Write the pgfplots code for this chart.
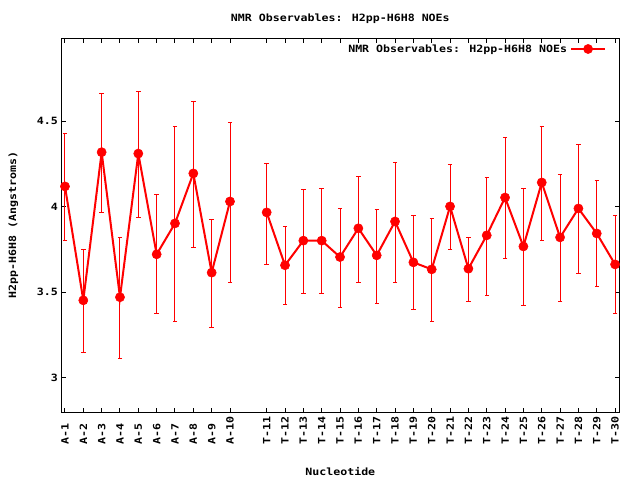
\documentclass[border=0pt]{standalone}
\usepackage{fontspec}
\setmainfont{DejaVu Sans Mono}[FakeStretch=1.16]
\usepackage{pgfplots}
\usepackage{pgfplotstable}
\pgfplotsset{compat=1.18}

\pgfplotstableread{
x y ep em
1 4.119 0.311 0.319
2 3.453 0.300 0.305
3 4.319 0.346 0.350
4 3.471 0.352 0.360
5 4.311 0.364 0.371
6 3.722 0.348 0.348
7 3.903 0.568 0.576
8 4.195 0.418 0.432
9 3.615 0.313 0.323
10 4.031 0.463 0.471
}\Adata

\pgfplotstableread{
x y ep em
12 3.967 0.288 0.302
13 3.658 0.229 0.232
14 3.802 0.301 0.312
15 3.802 0.307 0.312
16 3.706 0.286 0.297
17 3.874 0.305 0.314
18 3.716 0.270 0.284
19 3.914 0.347 0.354
20 3.675 0.271 0.278
21 3.634 0.300 0.307
22 4.002 0.247 0.249
23 3.638 0.185 0.194
24 3.833 0.340 0.349
25 4.054 0.353 0.359
26 3.768 0.341 0.348
27 4.142 0.329 0.337
28 3.821 0.370 0.377
29 3.990 0.376 0.383
30 3.844 0.312 0.313
31 3.663 0.283 0.288
}\Tdata

\begin{document}
\fontsize{10}{12}\selectfont\bfseries
\begin{tikzpicture}
\begin{axis}[
  at={(61.3pt,68pt)}, anchor=south west,
  scale only axis, width=558pt, height=373.7pt,
  xmin=0.8, xmax=31.23, ymin=2.8, ymax=4.985,
  axis line style={black, line width=1pt},
  every tick/.style={black, line width=1pt},
  major tick length=4.5pt,
  tick align=inside,
  /pgf/number format/assume math mode=true,
  ytick={3,3.5,4,4.5},
  xtick={1,2,3,4,5,6,7,8,9,10,12,13,14,15,16,17,18,19,20,21,22,23,24,25,26,27,28,29,30,31},
  xticklabels={A-1,A-2,A-3,A-4,A-5,A-6,A-7,A-8,A-9,A-10,T-11,T-12,T-13,T-14,T-15,T-16,T-17,T-18,T-19,T-20,T-21,T-22,T-23,T-24,T-25,T-26,T-27,T-28,T-29,T-30},
  xticklabel style={rotate=90, anchor=west},
  xticklabel shift=36pt,
  title={NMR Observables: H2pp-H6H8 NOEs},
  every axis title/.style={at={([yshift=20pt]axis description cs:0.5,1)}, anchor=center},
  xlabel={Nucleotide},
  every axis x label/.style={at={([yshift=-60pt]axis description cs:0.5,0)}, anchor=center},
  ylabel={H2pp-H6H8 (Angstroms)},
  every axis y label/.style={at={([xshift=-48pt]axis description cs:0,0.5)}, rotate=90, anchor=center},
  legend plot pos=right,
  legend image code/.code={\draw[mark repeat=2,mark phase=2,#1] plot coordinates {(0pt,0pt) (17pt,0pt) (34pt,0pt)};},
  legend style={at={([xshift=-13pt,yshift=-10.7pt]rel axis cs:1,1)}, anchor=east, draw=none, fill=none, inner sep=0pt, nodes={inner sep=3pt}},
]
\addplot[red, line width=2pt, mark=*, mark size=4.6pt, mark options={solid, fill=red, line width=0.5pt},
  error bars/.cd, y dir=both, y explicit,
  error bar style={red, line width=1pt},
  error mark options={red, rotate=90, mark size=2.2pt, line width=1pt}]
  table[x=x, y=y, y error plus=ep, y error minus=em] {\Adata};
\addlegendentry{NMR Observables: H2pp-H6H8 NOEs}
\addplot[red, line width=2pt, mark=*, mark size=4.6pt, mark options={solid, fill=red, line width=0.5pt}, forget plot,
  error bars/.cd, y dir=both, y explicit,
  error bar style={red, line width=1pt},
  error mark options={red, rotate=90, mark size=2.2pt, line width=1pt}]
  table[x=x, y=y, y error plus=ep, y error minus=em] {\Tdata};
\end{axis}
\pgfresetboundingbox
\path[use as bounding box] (0,0) rectangle (640pt,480pt);
\end{tikzpicture}
\end{document}
